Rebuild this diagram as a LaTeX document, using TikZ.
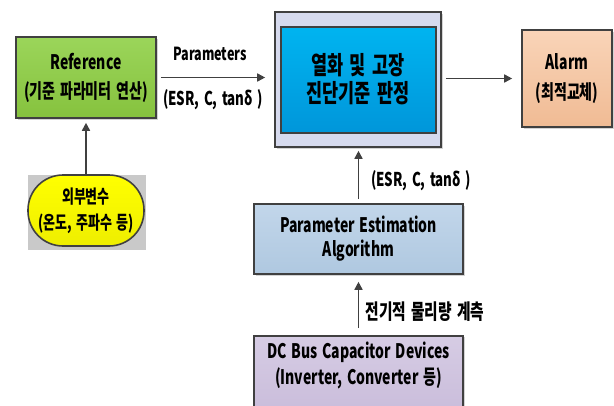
\documentclass[tikz,border=0pt]{standalone}
\usepackage{fontspec}
\setmainfont{Noto Sans CJK KR}[FakeStretch=0.72, BoldFont={Noto Sans CJK KR Black}, BoldFeatures={FakeStretch=0.70, WordSpace=1.5}]
\usetikzlibrary{arrows.meta,shadows}
\definecolor{edge}{HTML}{404040}
\definecolor{refg1}{HTML}{9BD55A}
\definecolor{refg2}{HTML}{86C23E}
\definecolor{outerc}{HTML}{D6DAEE}
\definecolor{inner1}{HTML}{00B4F0}
\definecolor{inner2}{HTML}{0096DA}
\definecolor{alarm1}{HTML}{F9D4B8}
\definecolor{alarm2}{HTML}{F0BB94}
\definecolor{pe1}{HTML}{C2D6EA}
\definecolor{pe2}{HTML}{AFC8E0}
\definecolor{dc1}{HTML}{D6CCE4}
\definecolor{dc2}{HTML}{C6B8D8}
\definecolor{yel1}{HTML}{FFFF00}
\definecolor{yel2}{HTML}{EEEE00}
\definecolor{greybg}{HTML}{C9C9C9}
\tikzset{
  box/.style={draw=edge, line width=1.6pt, rectangle, inner sep=0pt,
    drop shadow={shadow xshift=1.5pt, shadow yshift=-1.5pt, opacity=0.35, fill=gray}},
  txt/.style={font=\bfseries\fontsize{20}{29}\selectfont, align=center, inner sep=0pt, text=black},
  lbl/.style={font=\bfseries\fontsize{18}{20}\selectfont, inner sep=0pt, text=black},
  conn/.style={draw=edge, line width=1.6pt, -{Triangle[length=8pt,width=8pt]}},
}
\begin{document}
\begin{tikzpicture}[x=1pt,y=-1pt]
\useasboundingbox (0,0) rectangle (614,405);
% Reference
\node[box, top color=refg1, bottom color=refg2, minimum width=140pt, minimum height=81pt,
  txt] (ref) at (86,77.5) {Reference\\(기준 파라미터 연산)};
% main
\node[box, fill=outerc, minimum width=166pt, minimum height=135pt] (main) at (358,79.5) {};
\node[draw=edge, line width=1.6pt, top color=inner1, bottom color=inner2, minimum width=155pt,
  minimum height=106pt, inner sep=0pt] (inner) at (358.5,80) {};
\node[txt, font=\bfseries\fontsize{25}{28}\selectfont] (maintxt) at (358,79) {열화 및 고장\\진단기준 판정};
% Alarm
\node[box, top color=alarm1, bottom color=alarm2, minimum width=90pt, minimum height=97pt,
  txt, font=\bfseries\fontsize{20}{30}\selectfont] (alarm) at (567,78.5) {Alarm\\(최적교체)};
% external variables
\node[fill=greybg, minimum width=118pt, minimum height=75pt, inner sep=0pt] (ybg) at (87,212.5) {};
\node[draw=edge, line width=1.6pt, top color=yel1, bottom color=yel2, rounded corners=35pt,
  minimum width=116pt, minimum height=71pt, txt, font=\bfseries\fontsize{18.5}{26}\selectfont]
  (ext) at (86,210.5) {외부변수\\(온도, 주파수 등)};
% PE
\node[box, top color=pe1, bottom color=pe2, minimum width=209pt, minimum height=70pt,
  txt, font=\bfseries\fontsize{20}{24}\selectfont] (pe) at (358.5,239) {Parameter Estimation\\Algorithm};
% DC
\node[box, top color=dc1, bottom color=dc2, minimum width=209pt, minimum height=100pt,
  anchor=north] (dc) at (358.5,335) {};
\node[txt, font=\bfseries\fontsize{20}{26}\selectfont] (dctxt) at (358.5,365) {DC Bus Capacitor Devices\\(Inverter, Converter 등)};
% connectors
\draw[conn, shorten <=4pt, shorten >=9pt] (ref.east) -- (ref.east -| main.west);
\draw[conn, shorten <=4pt, shorten >=9pt] (main.east |- alarm.west) -- (alarm.west);
\draw[conn, shorten >=4pt] (ext.north) -- (ref.south);
\draw[conn, shorten <=4pt, shorten >=3pt] (pe.north) -- (pe.north |- main.south);
\draw[conn, shorten <=7pt, shorten >=7pt] (dc.north) -- (pe.south);
% labels
\node[lbl] (l1) at (210,54) {Parameters};
\node[lbl, font=\bfseries\fontsize{19}{20}\selectfont] (l2) at (213,100) {(ESR, C, tanδ )};
\node[lbl, font=\bfseries\fontsize{19}{20}\selectfont] (l3) at (421,181) {(ESR, C, tanδ )};
\node[lbl, font=\bfseries\fontsize{21}{22}\selectfont] (l4) at (425,312) {전기적 물리량 계측};
\end{tikzpicture}
\end{document}
